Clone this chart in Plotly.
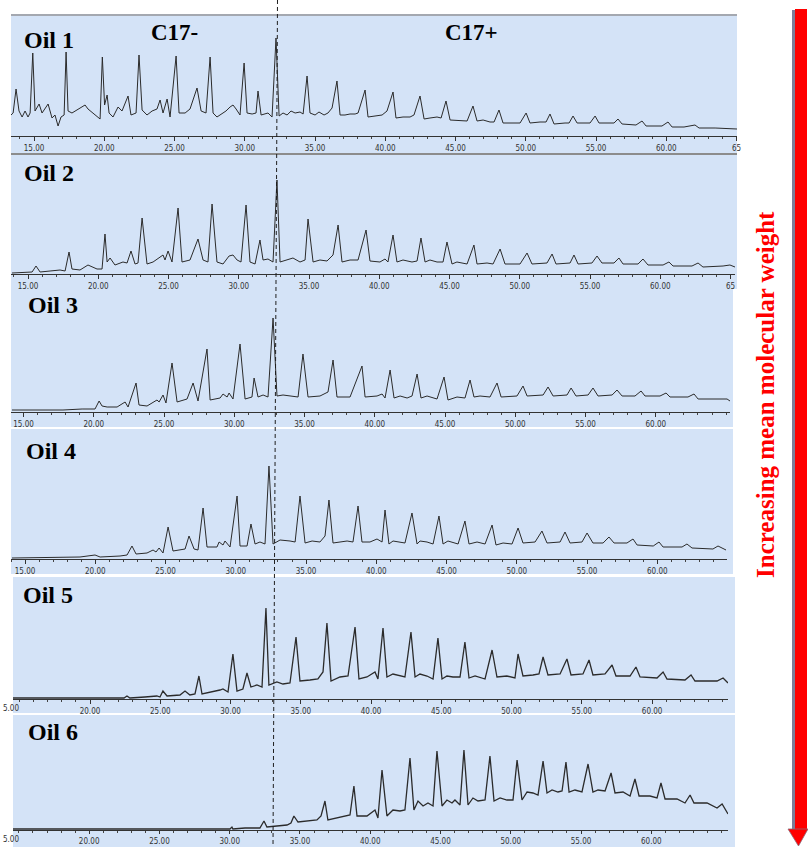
import plotly.graph_objects as go

W, H = 808, 847

# ---------------- data (retention time in min, abundance in arbitrary units) ----------------
oil_names = ["Oil 1", "Oil 2", "Oil 3", "Oil 4", "Oil 5", "Oil 6"]

oil1_t = [13.36, 13.51, 13.72, 13.93, 14.15, 14.36, 14.57, 14.72, 14.91, 15.07,
          15.36, 15.57, 16.00, 16.28, 16.49, 16.71, 16.92, 17.14, 17.28, 17.42,
          17.70, 18.27, 18.63, 18.84, 19.34, 19.70, 19.86, 20.02, 20.20, 20.34,
          20.62, 20.98, 21.26, 21.69, 21.90, 22.26, 22.47, 22.69, 23.04, 23.40,
          23.75, 23.97, 24.18, 24.47, 24.68, 25.11, 25.32, 25.75, 26.10, 26.60,
          26.89, 27.24, 27.53, 27.74, 28.02, 28.66, 28.95, 29.16, 29.38, 29.66,
          29.95, 30.16, 30.52, 30.80, 30.94, 31.16, 31.65, 31.94, 32.22, 32.44,
          32.72, 33.01, 33.29, 33.58, 33.93, 34.15, 34.43, 34.64, 35.00, 35.28,
          35.64, 35.92, 36.21, 36.56, 36.78, 37.13, 37.49, 37.85, 38.06, 38.56,
          38.77, 39.27, 39.77, 40.12, 40.55, 40.76, 41.26, 41.76, 42.04, 42.47,
          42.76, 43.18, 43.68, 43.97, 44.32, 44.61, 45.32, 45.82, 46.24, 46.53,
          46.96, 47.45, 47.74, 48.09, 48.38, 49.09, 49.59, 50.02, 50.30, 51.01,
          51.44, 51.72, 52.01, 52.79, 53.08, 53.36, 53.65, 54.57, 54.93, 55.21,
          55.99, 56.28, 56.56, 56.85, 57.84, 58.27, 58.56, 59.69, 60.12, 60.41,
          61.26, 62.04, 62.33, 63.47, 65.03]
oil1_y = [20, 22, 46, 24, 18, 24, 18, 22, 82, 24,
          31, 22, 31, 17, 20, 9, 18, 20, 83, 24,
          22, 27, 30, 26, 20, 16, 78, 30, 40, 22,
          18, 28, 24, 39, 20, 22, 80, 25, 20, 24,
          26, 35, 22, 36, 18, 79, 22, 22, 26, 47,
          24, 22, 78, 22, 18, 24, 28, 30, 26, 20,
          72, 22, 21, 22, 44, 20, 22, 18, 97, 19,
          22, 20, 24, 22, 23, 21, 59, 22, 20, 23,
          20, 22, 27, 54, 20, 20, 21, 21, 22, 45,
          18, 19, 20, 24, 43, 17, 18, 18, 20, 39,
          16, 17, 18, 17, 34, 15, 14, 14, 29, 14,
          15, 13, 13, 25, 12, 12, 12, 22, 12, 13,
          13, 21, 11, 12, 12, 19, 12, 12, 19, 12,
          12, 12, 16, 11, 10, 14, 9, 9, 13, 8,
          8, 10, 7, 7, 6]

oil2_t = [13.43, 14.86, 15.14, 15.43, 16.14, 16.85, 17.21, 17.49, 17.70, 18.27,
          18.84, 19.48, 19.84, 20.05, 20.20, 20.41, 20.76, 21.33, 21.62, 21.90,
          22.19, 22.40, 22.69, 23.04, 23.47, 24.18, 24.32, 24.54, 24.82, 25.25,
          25.53, 26.10, 26.67, 27.03, 27.38, 27.67, 28.02, 28.45, 28.88, 29.16,
          29.45, 29.73, 30.09, 30.37, 30.73, 31.08, 31.30, 31.65, 32.01, 32.29,
          32.51, 33.01, 33.43, 33.93, 34.29, 34.50, 34.86, 35.35, 35.85, 36.28,
          36.64, 36.92, 37.49, 38.06, 38.63, 38.91, 39.62, 39.98, 40.19, 40.55,
          40.83, 41.26, 41.90, 42.26, 42.54, 42.83, 43.18, 43.68, 44.11, 44.39,
          44.75, 45.10, 45.82, 46.31, 46.53, 47.24, 47.67, 48.17, 48.52, 49.59,
          50.09, 50.44, 51.51, 51.87, 52.15, 53.15, 53.43, 53.72, 54.71, 55.07,
          55.42, 56.28, 56.63, 56.92, 57.99, 58.34, 58.70, 59.77, 60.19, 60.48,
          61.83, 62.26, 62.61, 64.04, 64.53, 64.89]
oil2_y = [0, 1, 7, 1, 2, 3, 2, 21, 4, 3,
          8, 4, 4, 39, 11, 15, 8, 11, 10, 22,
          9, 10, 55, 9, 11, 18, 13, 22, 11, 65,
          11, 13, 34, 13, 11, 69, 11, 9, 17, 18,
          13, 11, 68, 11, 9, 33, 13, 14, 11, 93,
          11, 13, 15, 11, 13, 54, 11, 13, 12, 18,
          48, 11, 13, 13, 43, 12, 11, 14, 11, 38,
          11, 13, 11, 12, 35, 11, 13, 11, 11, 31,
          9, 11, 9, 28, 9, 10, 9, 24, 9, 9,
          20, 9, 10, 19, 9, 10, 18, 9, 10, 17,
          10, 10, 15, 9, 9, 14, 8, 8, 11, 7,
          7, 10, 6, 7, 8, 6]

oil3_t = [13.43, 17.06, 18.42, 19.34, 19.63, 19.84, 20.20, 20.91, 21.48, 21.69,
          22.26, 22.47, 23.04, 23.75, 23.90, 24.18, 24.39, 24.82, 25.18, 25.89,
          26.32, 26.67, 27.31, 27.53, 28.24, 28.45, 28.74, 28.88, 29.16, 29.66,
          30.02, 30.51, 30.66, 30.94, 31.30, 31.65, 32.01, 32.29, 32.72, 33.36,
          33.79, 34.14, 34.50, 35.35, 35.92, 36.28, 36.56, 37.49, 38.34, 38.56,
          39.41, 39.77, 39.98, 40.34, 40.62, 41.05, 41.55, 41.90, 42.26, 42.54,
          42.97, 43.68, 44.18, 44.46, 45.10, 45.67, 46.03, 46.31, 46.74, 47.45,
          47.95, 48.24, 49.37, 49.80, 50.09, 51.23, 51.58, 51.94, 52.93, 53.22,
          53.57, 54.43, 54.78, 55.14, 56.14, 56.49, 56.85, 57.77, 58.20, 58.48,
          59.55, 59.98, 60.26, 61.54, 61.97, 62.26, 63.82, 64.32, 64.53]
oil3_y = [1, 1, 2, 2, 10, 5, 4, 4, 9, 4,
          28, 6, 5, 11, 9, 16, 8, 48, 9, 12,
          28, 10, 62, 11, 13, 17, 14, 18, 12, 67,
          12, 14, 33, 14, 16, 14, 93, 15, 16, 15,
          14, 57, 14, 15, 19, 51, 14, 14, 45, 14,
          15, 17, 13, 41, 13, 15, 13, 15, 37, 13,
          15, 12, 34, 11, 14, 13, 31, 14, 15, 14,
          28, 14, 15, 25, 15, 16, 24, 15, 16, 23,
          15, 16, 23, 15, 16, 21, 15, 15, 20, 15,
          15, 18, 14, 14, 17, 12, 12, 12, 10]

oil4_t = [13.43, 16.85, 18.27, 19.34, 19.70, 21.12, 21.62, 21.97, 22.26, 23.04,
          23.47, 23.68, 23.90, 24.18, 24.54, 24.89, 25.75, 26.03, 26.39, 26.67,
          27.03, 27.31, 28.02, 28.17, 28.45, 28.59, 28.95, 29.45, 29.66, 30.16,
          30.44, 30.73, 31.08, 31.44, 31.72, 32.01, 32.51, 33.22, 33.58, 33.93,
          34.29, 34.79, 35.35, 35.71, 35.99, 36.28, 37.28, 37.70, 38.06, 38.34,
          38.91, 39.41, 39.77, 39.98, 40.26, 40.55, 41.05, 41.40, 41.90, 42.26,
          42.47, 42.97, 43.40, 43.82, 44.11, 44.46, 45.18, 45.67, 45.96, 46.53,
          47.10, 47.60, 47.88, 48.38, 49.02, 49.45, 49.80, 50.66, 51.15, 51.51,
          52.44, 52.79, 53.15, 54.00, 54.36, 54.78, 55.50, 55.92, 56.28, 57.20,
          57.63, 57.92, 59.07, 59.48, 59.77, 61.12, 61.47, 61.83, 63.32, 63.68,
          64.25]
oil4_y = [0, 1, 1, 3, 1, 2, 3, 12, 4, 5,
          8, 6, 10, 5, 31, 7, 9, 22, 9, 8,
          50, 11, 11, 16, 13, 17, 11, 62, 12, 12,
          34, 14, 16, 14, 92, 14, 18, 17, 16, 62,
          15, 17, 16, 22, 58, 15, 17, 16, 52, 16,
          16, 19, 16, 48, 14, 17, 16, 15, 45, 14,
          17, 16, 14, 42, 14, 17, 14, 37, 14, 16,
          14, 33, 13, 15, 14, 30, 15, 16, 27, 15,
          16, 26, 15, 16, 25, 15, 15, 21, 15, 15,
          19, 13, 12, 16, 11, 11, 14, 10, 9, 12,
          8]

oil5_t = [13.51, 21.41, 21.62, 21.83, 22.90, 23.75, 23.97, 24.18, 24.47, 25.39,
          25.75, 26.10, 26.46, 26.74, 26.96, 27.74, 28.24, 28.45, 28.81, 29.16,
          29.45, 29.87, 30.16, 30.44, 30.87, 31.23, 31.51, 31.72, 32.29, 32.72,
          33.22, 33.65, 33.93, 34.64, 35.21, 35.57, 35.85, 36.14, 36.78, 37.35,
          37.85, 38.13, 38.70, 39.27, 39.48, 39.84, 40.12, 40.55, 41.05, 41.40,
          41.83, 42.12, 42.47, 42.97, 43.40, 43.75, 44.04, 44.39, 44.82, 45.32,
          45.67, 45.96, 46.39, 47.10, 47.60, 47.95, 48.66, 49.23, 49.45, 49.80,
          50.51, 50.94, 51.23, 51.58, 52.44, 52.93, 53.22, 54.07, 54.50, 54.78,
          55.64, 56.14, 56.42, 57.42, 57.84, 58.13, 59.34, 59.77, 60.05, 61.33,
          61.76, 62.04, 63.61, 64.04, 64.39]
oil5_y = [0, 0, 2, 0, 1, 2, 1, 7, 2, 3,
          7, 3, 4, 22, 4, 6, 8, 9, 6, 44,
          7, 9, 25, 11, 13, 11, 90, 13, 16, 14,
          15, 61, 17, 18, 19, 26, 75, 17, 21, 22,
          71, 19, 21, 26, 19, 70, 21, 24, 22, 21,
          66, 21, 24, 22, 19, 60, 19, 22, 21, 21,
          56, 20, 22, 19, 48, 21, 22, 20, 44, 22,
          23, 24, 41, 23, 24, 39, 23, 24, 38, 23,
          24, 33, 22, 22, 31, 21, 20, 26, 19, 18,
          23, 17, 17, 20, 15]

oil6_t = [13.51, 28.95, 29.09, 29.16, 30.02, 31.08, 31.37, 31.58, 32.29, 33.01,
          33.29, 33.50, 33.79, 34.43, 35.14, 35.43, 35.71, 35.92, 36.56, 37.28,
          37.49, 37.77, 37.99, 38.70, 39.27, 39.48, 39.77, 40.12, 40.55, 41.05,
          41.40, 41.76, 42.04, 42.33, 42.69, 43.04, 43.40, 43.68, 44.04, 44.39,
          44.75, 44.96, 45.32, 45.60, 45.89, 46.24, 46.60, 47.10, 47.45, 47.74,
          48.17, 48.66, 49.09, 49.38, 49.73, 50.09, 50.51, 50.87, 51.23, 51.51,
          51.87, 52.29, 52.58, 52.86, 53.08, 53.50, 54.00, 54.43, 54.78, 55.14,
          55.64, 56.07, 56.35, 56.92, 57.42, 57.77, 58.06, 58.84, 59.34, 59.62,
          59.91, 60.76, 61.33, 61.69, 61.97, 62.90, 63.61, 63.97, 64.39]
oil6_y = [0, 0, 2, 0, 1, 1, 8, 2, 3, 4,
          6, 13, 7, 8, 9, 13, 28, 9, 11, 13,
          14, 43, 13, 13, 19, 11, 59, 13, 19, 18,
          19, 71, 19, 28, 23, 26, 23, 78, 23, 29,
          26, 29, 24, 79, 24, 31, 28, 29, 73, 28,
          31, 29, 29, 69, 29, 37, 36, 34, 68, 36,
          39, 37, 38, 67, 37, 39, 37, 65, 37, 39,
          38, 56, 36, 37, 33, 50, 33, 33, 31, 46,
          30, 30, 26, 34, 26, 26, 21, 25, 15]

# time-axis tick labels shown under each trace
tick_labels = [[15, 20, 25, 30, 35, 40, 45, 50, 55, 60, 65],
               [15, 20, 25, 30, 35, 40, 45, 50, 55, 60, 65],
               [15, 20, 25, 30, 35, 40, 45, 50, 55, 60],
               [15, 20, 25, 30, 35, 40, 45, 50, 55, 60],
               [20, 25, 30, 35, 40, 45, 50, 55, 60],
               [20, 25, 30, 35, 40, 45, 50, 55, 60]]
# per-run offset of the printed time scale relative to the plotted time scale (min)
label_offset = [0.0, 0.43, 0.75, 0.64, 1.01, 1.07]

oil_t = [oil1_t, oil2_t, oil3_t, oil4_t, oil5_t, oil6_t]
oil_y = [oil1_y, oil2_y, oil3_y, oil4_y, oil5_y, oil6_y]
for t, y in zip(oil_t, oil_y):
    assert len(t) == len(y)

# ---------------- layout geometry (pixels) ----------------
panels = [
    dict(bg=(11, 15, 737, 153), axis_y=136, ax=(11, 737), top=15, xr=(13.36, 65.03), tl=4),
    dict(bg=(11, 155, 737, 289), axis_y=274, ax=(11, 735), top=155, xr=(13.36, 64.89), tl=4),
    dict(bg=(11, 289, 733, 427), axis_y=412, ax=(11, 730), top=290, xr=(13.36, 64.53), tl=4),
    dict(bg=(11, 429, 733, 574), axis_y=559, ax=(11, 727), top=429, xr=(13.36, 64.32), tl=4),
    dict(bg=(13, 577, 735, 713), axis_y=699, ax=(13, 728), top=577, xr=(13.51, 64.39), tl=4),
    dict(bg=(13, 715, 735, 847), axis_y=830, ax=(13, 728), top=715, xr=(13.51, 64.39), tl=3),
]
label_pos = [(22, 40), (22, 173), (26, 305), (24, 451), (21, 595), (26, 732)]


def fx(px):
    return px / W


def fy(py):
    return 1 - py / H


BG = "#d4e3f7"
LINE = "#2b2b2b"
TICKFONT = dict(family="Liberation Sans Narrow, DejaVu Sans Condensed, Arial Narrow, Roboto, sans-serif",
                size=8, color="#333333")
SERIF = "Liberation Serif, Times New Roman, serif"

fig = go.Figure()
layout = dict(width=W, height=H, autosize=False, template="none",
              margin=dict(l=0, r=0, t=0, b=0, pad=0),
              paper_bgcolor="white", plot_bgcolor="rgba(0,0,0,0)",
              showlegend=False)
shapes = []
annotations = []

for i, p in enumerate(panels):
    k = i + 1
    xa = "x" if k == 1 else f"x{k}"
    ya = "y" if k == 1 else f"y{k}"
    fig.add_trace(go.Scatter(x=oil_t[i], y=oil_y[i], mode="lines",
                             line=dict(color=LINE, width=1.0 if i < 4 else 1.3),
                             name=oil_names[i], xaxis=xa, yaxis=ya,
                             hoverinfo="skip"))
    sh = label_offset[i]
    labs = tick_labels[i]
    tv = [L - sh for L in labs]
    tt = [("65" if L == 65 else f"{L:.2f}") for L in labs]
    layout["xaxis" if k == 1 else f"xaxis{k}"] = dict(
        domain=[fx(p["ax"][0]), fx(p["ax"][1])], range=list(p["xr"]),
        anchor=ya, automargin=False, showgrid=False, zeroline=False, showline=True,
        linecolor="#333333", linewidth=1, ticks="outside", ticklen=p["tl"],
        tickwidth=1, tickcolor="#333333", tickmode="array", tickvals=tv,
        ticktext=tt, tickfont=TICKFONT, fixedrange=True,
        minor=dict(ticks="outside", ticklen=2, tickcolor="#444444",
                   tick0=15 - sh, dtick=1, showgrid=False))
    hgt = p["axis_y"] - p["top"]
    layout["yaxis" if k == 1 else f"yaxis{k}"] = dict(
        domain=[fy(p["axis_y"]), fy(p["top"])], range=[-1, hgt - 1],
        anchor=xa, automargin=False, visible=False, fixedrange=True)
    x0, y0, x1, y1 = p["bg"]
    shapes.append(dict(type="rect", xref="paper", yref="paper", layer="below",
                       x0=fx(x0), x1=fx(x1), y0=fy(y1), y1=fy(y0),
                       fillcolor=BG, line=dict(width=0)))
    lx, ly = label_pos[i]
    annotations.append(dict(text=f"<b>{oil_names[i]}</b>", x=fx(lx), y=fy(ly),
                            xref="paper", yref="paper", xanchor="left",
                            yanchor="middle", showarrow=False,
                            font=dict(family=SERIF, size=24, color="black")))
    if i >= 4:
        annotations.append(dict(text="5.00", x=fx(1), y=fy(p["axis_y"] + 9),
                                xref="paper", yref="paper", xanchor="left",
                                yanchor="middle", showarrow=False, font=TICKFONT))

# top borders of the first two panels
shapes.append(dict(type="line", xref="paper", yref="paper", x0=fx(11), x1=fx(737),
                   y0=fy(15), y1=fy(15), line=dict(color="#a4a8b0", width=2)))
shapes.append(dict(type="line", xref="paper", yref="paper", x0=fx(11), x1=fx(737),
                   y0=fy(154), y1=fy(154), line=dict(color="#8c8c8c", width=2)))

# dashed C17 divider
shapes.append(dict(type="line", xref="paper", yref="paper", x0=fx(277.5), y0=fy(0),
                   x1=fx(273), y1=fy(847),
                   line=dict(color="#1e1e1e", width=1, dash="4px,3px")))

# red arrow on the right
shapes.append(dict(type="rect", xref="paper", yref="paper", x0=fx(792), x1=fx(795),
                   y0=fy(829), y1=fy(10), fillcolor="#7d7d98", line=dict(width=0)))
shapes.append(dict(type="rect", xref="paper", yref="paper", x0=fx(795), x1=fx(807),
                   y0=fy(829), y1=fy(9), fillcolor="#ff0000", line=dict(width=0)))
shapes.append(dict(type="path", xref="paper", yref="paper",
                   path=f"M {fx(788)},{fy(829)} L {fx(808)},{fy(829)} L {fx(798.5)},{fy(846)} Z",
                   fillcolor="#ff0000", line=dict(color="#8a6a7a", width=0.8)))

annotations.append(dict(text="<b>C17-</b>", x=fx(174), y=fy(32), xref="paper", yref="paper",
                        xanchor="center", yanchor="middle", showarrow=False,
                        font=dict(family=SERIF, size=23, color="black")))
annotations.append(dict(text="<b>C17+</b>", x=fx(472), y=fy(32), xref="paper", yref="paper",
                        xanchor="center", yanchor="middle", showarrow=False,
                        font=dict(family=SERIF, size=23, color="black")))
annotations.append(dict(text="<b>Increasing mean molecular weight</b>", x=fx(765), y=fy(395),
                        xref="paper", yref="paper", xanchor="center", yanchor="middle",
                        textangle=-90, showarrow=False,
                        font=dict(family=SERIF, size=25, color="#ff0000")))

layout["shapes"] = shapes
layout["annotations"] = annotations
fig.update_layout(**layout)
fig.write_html("out.html")
